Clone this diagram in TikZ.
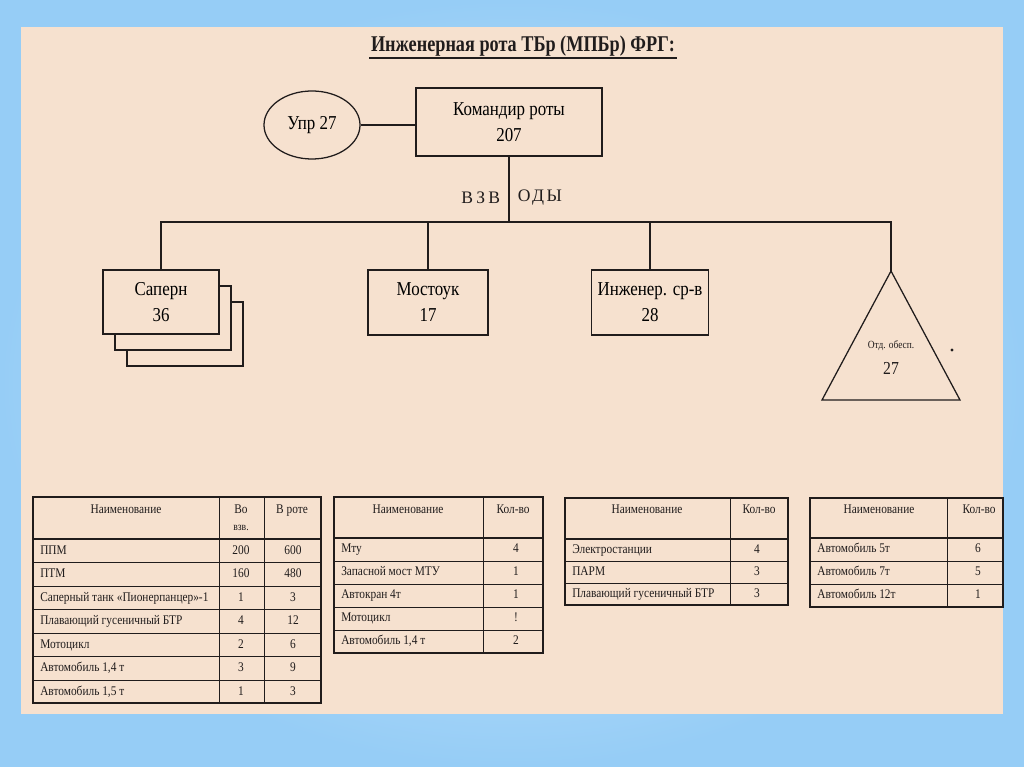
\documentclass[tikz,border=0pt]{standalone}
\usepackage{fontspec}
\setmainfont{Liberation Serif}
\newfontfamily\narrowfont[FakeStretch=0.86]{Liberation Serif}
\newfontfamily\titlefont[FakeStretch=0.81]{Liberation Serif}
\usepackage{tikz}
\usetikzlibrary{positioning, shapes.geometric, shadows}
\definecolor{paper}{RGB}{246,225,207}
\definecolor{frameblue}{RGB}{150,205,246}
\definecolor{framelight}{RGB}{212,236,253}
\definecolor{ink}{RGB}{32,28,28}

\tikzset{
  box/.style={draw=ink, fill=paper, line width=0.9pt, align=center, inner sep=0pt,
    font=\narrowfont\fontsize{14}{18.5}\selectfont},
  cell/.style={font=\narrowfont\fontsize{9.4}{11}\selectfont, inner sep=0pt,
    text height=6.8pt, text depth=2pt, text=ink},
  tabframe/.style={draw=ink, line width=1.6pt},
  tabline/.style={draw=ink, line width=0.6pt},
  link/.style={draw=ink, line width=0.9pt},
}

\begin{document}
\begin{tikzpicture}[x=0.025cm, y=-0.025cm]
  \useasboundingbox (0,0) rectangle (1024,767);
  \shade[inner color=framelight, outer color=frameblue] (0,0) rectangle (1024,767);
  \fill[paper] (21,27) rectangle (1003,714);

  % title
  \node[font=\titlefont\bfseries\fontsize{16}{18}\selectfont, text=ink, inner sep=1pt] (title) at (523,46)
    {Инженерная рота ТБр (МПБр) ФРГ:};
  \draw[ink, line width=1.4pt] (title.south west) -- (title.south east);

  % command
  \node[box, minimum width=4.65cm, minimum height=1.7cm] (cmd) at (509,122) {Командир роты\\207};
  \node[box, ellipse, minimum width=2.4cm, minimum height=1.7cm] (upr) at (312,125) {Упр 27};
  \draw[link] (upr.east) -- (upr.east -| cmd.west);

  % platoons
  \node[box, minimum width=2.9cm, minimum height=1.6cm,
    double copy shadow={shadow xshift=0.3cm, shadow yshift=-0.4cm}] (saper) at (161,302) {Саперн\\36};
  \node[box, minimum width=3.0cm, minimum height=1.625cm] (most) at (428,302.5) {Мостоук\\17};
  \node[box, minimum width=2.925cm, minimum height=1.625cm] (ing) at (650,302.5) {Инженер. ср-в\\28};
  \coordinate (otdtop) at (891,271);
  \draw[link] (otdtop) -- (822,400) -- (960,400) -- cycle;
  \node[font=\narrowfont\fontsize{7.8}{9}\selectfont, text=ink] (otd) at (891,346) {Отд. обесп.};
  \node[font=\narrowfont\fontsize{13}{14}\selectfont, text=ink] (otdnum) at (891,368) {27};
  \fill[ink] (952,350) circle (1.1pt);

  \coordinate (bus) at (509,222);
  \draw[link] (cmd.south) -- (bus);
  \draw[link] (saper.north) -- (saper.north |- bus) -| (otdtop);
  \draw[link] (most.north) -- (most.north |- bus);
  \draw[link] (ing.north) -- (ing.north |- bus);
  \node[font=\fontsize{12.5}{14}\selectfont\addfontfeature{LetterSpace=18}, text=ink, anchor=east] (vzv) at (505,198) {ВЗВ};
  \node[font=\fontsize{12.5}{14}\selectfont\addfontfeature{LetterSpace=14}, text=ink, anchor=west] (ody) at (513,198) {ОДЫ};

  % table 1
  \draw[tabframe] (33,497) rectangle (321,703);
  \draw[ink, line width=1.3pt] (33,539) -- (321,539);
  \draw[tabline] (219,497) -- (219,703) (264,497) -- (264,703);
  \foreach \r in {1,...,6} \draw[tabline] (33,539+23.5*\r) -- (321,539+23.5*\r);
  \node[cell] (h1a) at (126,510) {Наименование};
  \node[cell] (h1b) at (241,510) {Во};
  \node[cell, font=\narrowfont\fontsize{8}{9}\selectfont] (h1c) at (241,527) {взв.};
  \node[cell] (h1d) at (292,510) {В роте};
  \foreach \name/\a/\b [count=\i] in {ППМ/200/600, ПТМ/160/480,
      Саперный танк «Пионерпанцер»-1/1/3, Плавающий гусеничный БТР/4/12,
      Мотоцикл/2/6, {Автомобиль 1,4 т}/3/9, {Автомобиль 1,5 т}/1/3} {
    \node[cell, anchor=west] (t1n\i) at (40,527.25+23.5*\i) {\name};
    \node[cell] (t1a\i) at (241,527.25+23.5*\i) {\a};
    \node[cell] (t1b\i) at (293,527.25+23.5*\i) {\b};
  }

  % table 2
  \draw[tabframe] (334,497) rectangle (543,653);
  \draw[ink, line width=1.3pt] (334,538) -- (543,538);
  \draw[tabline] (483,497) -- (483,653);
  \foreach \r in {1,...,4} \draw[tabline] (334,538+23*\r) -- (543,538+23*\r);
  \node[cell] (h2a) at (408,510) {Наименование};
  \node[cell] (h2b) at (513,510) {Кол-во};
  \foreach \name/\a [count=\i] in {Мту/4, Запасной мост МТУ/1, Автокран 4т/1,
      Мотоцикл/!, {Автомобиль 1,4 т}/2} {
    \node[cell, anchor=west] (t2n\i) at (341,526.5+23*\i) {\name};
    \node[cell] (t2a\i) at (516,526.5+23*\i) {\a};
  }

  % table 3
  \draw[tabframe] (565,498) rectangle (788,605);
  \draw[ink, line width=1.3pt] (565,539) -- (788,539);
  \draw[tabline] (730,498) -- (730,605);
  \foreach \r in {1,2} \draw[tabline] (565,539+22*\r) -- (788,539+22*\r);
  \node[cell] (h3a) at (647,510) {Наименование};
  \node[cell] (h3b) at (759,510) {Кол-во};
  \foreach \name/\a [count=\i] in {Электростанции/4, ПАРМ/3, Плавающий гусеничный БТР/3} {
    \node[cell, anchor=west] (t3n\i) at (572,528+22*\i) {\name};
    \node[cell] (t3a\i) at (757,528+22*\i) {\a};
  }

  % table 4
  \draw[tabframe] (810,498) rectangle (1003,607);
  \draw[ink, line width=1.3pt] (810,538) -- (1003,538);
  \draw[tabline] (947,498) -- (947,607);
  \foreach \r in {1,2} \draw[tabline] (810,538+23*\r) -- (1003,538+23*\r);
  \node[cell] (h4a) at (879,510) {Наименование};
  \node[cell] (h4b) at (979,510) {Кол-во};
  \foreach \name/\a [count=\i] in {Автомобиль 5т/6, Автомобиль 7т/5, Автомобиль 12т/1} {
    \node[cell, anchor=west] (t4n\i) at (817,526.5+23*\i) {\name};
    \node[cell] (t4a\i) at (978,526.5+23*\i) {\a};
  }
\end{tikzpicture}
\end{document}
